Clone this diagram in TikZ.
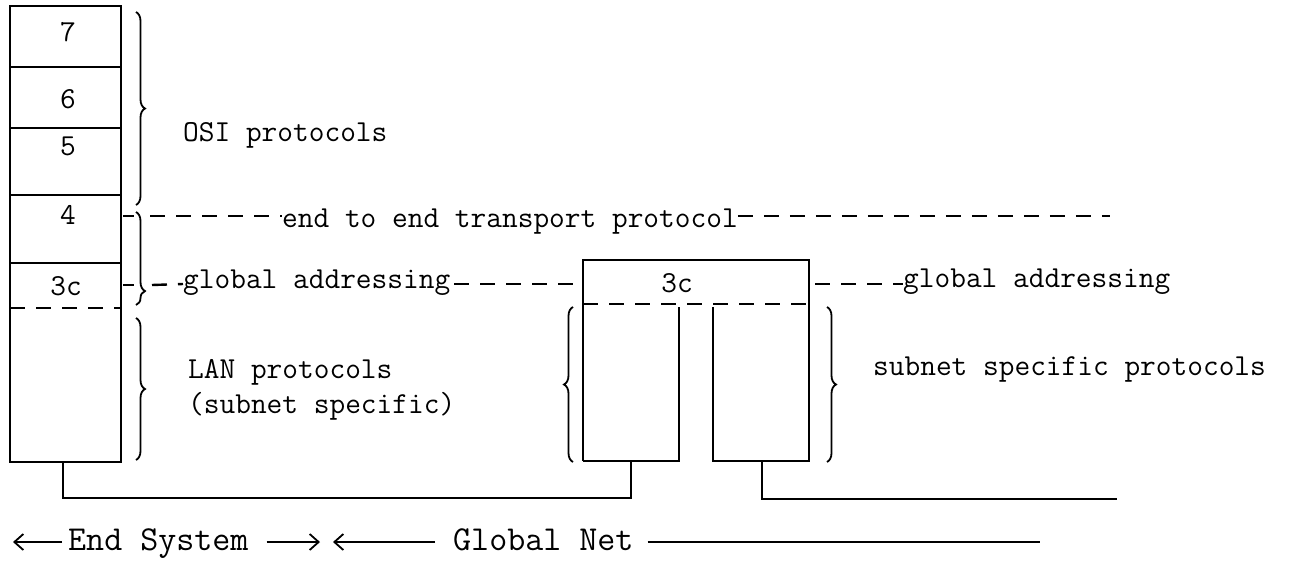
\documentclass[tikz,border=0pt]{standalone}
\usetikzlibrary{decorations.pathreplacing,arrows.meta}
\begin{document}
\begin{tikzpicture}[x=1pt,y=-1pt,
  wire/.style={line width=2.6pt},
  sep/.style={line width=2.4pt,dash pattern=on 15pt off 11pt},
  brc/.style={line width=1.8pt,decorate,decoration={brace,amplitude=9pt}},
  lbl/.style={font=\fontsize{30.5}{35}\selectfont\ttfamily,inner sep=0pt},
  foot/.style={font=\fontsize{35}{40}\selectfont\ttfamily,inner sep=0pt},
  tip/.style={line width=1.8pt,-{Straight Barb[length=9pt,width=16pt]}}]
\useasboundingbox (0,0) rectangle (1293,560);
\draw[wire] (10,6) rectangle (121,462);
\foreach \y in {67,128,195,263} \draw[wire] (10,\y) -- (121,\y);
\draw[sep] (10,308) -- (121,308);
\node[lbl] (l7) at (68,32) {7};
\node[lbl] (l6) at (68,99) {6};
\node[lbl] (l5) at (68,146) {5};
\node[lbl] (l4) at (68,215) {4};
\node[lbl] (l3c) at (66,286) {3c};
\draw[brc] (136,12) -- (136,205);
\draw[brc,decoration={aspect=0.85}] (136,212) -- (136,305);
\draw[brc] (136,318) -- (136,460);
\draw[wire] (583,461) -- (583,260) -- (809,260) -- (809,461) -- (713,461) -- (713,307);
\draw[wire] (583,461) -- (679,461) -- (679,307);
\draw[sep] (583,304) -- (809,304);
\node[lbl] (g3c) at (677,283) {3c};
\draw[brc] (573,462) -- (573,307);
\draw[brc] (827,307) -- (827,462);
\coordinate (gwl) at (583,284);
\coordinate (gwr) at (809,284);
\coordinate (trend) at (1110,216);
\node[lbl,anchor=base west] (osi) at (183,141) {OSI protocols};
\node[lbl,anchor=base west] (eet) at (282,227) {end to end transport protocol};
\node[lbl,anchor=base west] (ga1) at (183,288) {global addressing};
\node[lbl,anchor=base west] (ga2) at (903,287) {global addressing};
\node[lbl,anchor=base west] (lan1) at (188,378) {LAN protocols};
\node[lbl,anchor=base west] (lan2) at (188,413) {(subnet specific)};
\node[lbl,anchor=base west] (ssp) at (873,375) {subnet specific protocols};
\draw[sep] (123,216) -- (134,216);
\draw[sep] (150,216) -- (eet.west |- trend);
\draw[sep] (eet.east |- trend) -- (trend);
\draw[sep] (123,285) -- (134,285);
\draw[sep] (152,285) -- (ga1.west |- gwl);
\draw[sep,shorten <=4pt] (ga1.east |- gwl) -- (gwl);
\draw[sep,shorten <=6pt] (gwr) -- (ga2.west |- gwr);
\coordinate (esfoot) at (63,462);
\coordinate (subafoot) at (631,461);
\coordinate (subbfoot) at (762,461);
\coordinate (netend) at (1117,499);
\draw[wire] (esfoot) -- ++(0,36) -| (subafoot);
\draw[wire] (subbfoot) |- (netend);
\node[foot,anchor=base west] (es) at (68,550) {End System};
\node[foot,anchor=base west] (gn) at (453,550) {Global Net};
\coordinate (esl) at (13,542);
\coordinate (esr) at (320,542);
\coordinate (gnl) at (333,542);
\coordinate (gnr) at (1040,542);
\draw[tip,shorten <=6pt] (es.west |- esl) -- (esl);
\draw[tip,shorten <=18pt] (es.east |- esr) -- (esr);
\draw[tip,shorten <=18pt] (gn.west |- gnl) -- (gnl);
\draw[line width=1.8pt,shorten <=14pt] (gn.east |- gnr) -- (gnr);
\end{tikzpicture}
\end{document}
